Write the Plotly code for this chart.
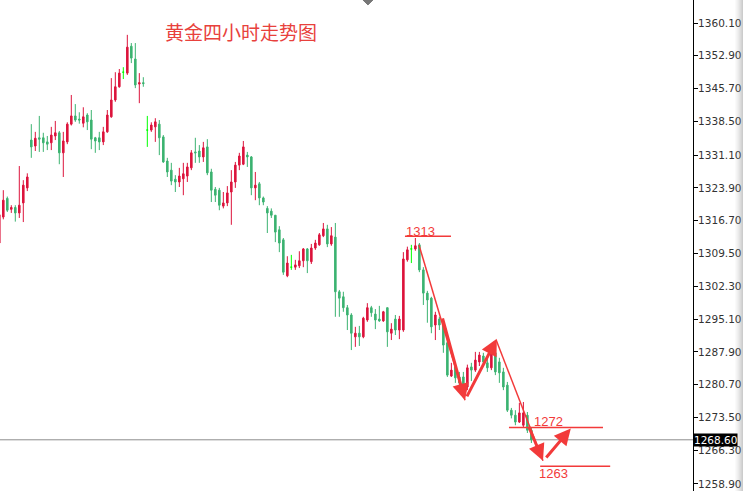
import plotly.graph_objects as go

# ---- data (4-hour gold candles) ----
opens = [1311.8, 1317.5, 1321.6, 1319.2, 1319.6, 1318.4, 1320.6, 1323.9, 1334.4, 1333.1,
         1334.9, 1334.9, 1334.0, 1333.8, 1335.3, 1336.0, 1331.6, 1334.0, 1337.9, 1339.7,
         1339.0, 1338.1, 1339.9, 1338.8, 1334.9, 1334.9, 1334.0, 1336.2, 1339.5, 1343.2,
         1346.1, 1349.3, 1349.1, 1355.0, 1352.2, 1346.7, 1347.0, 1336.6, 1336.6, 1337.3,
         1337.9, 1335.1, 1329.8, 1327.8, 1325.8, 1325.2, 1325.9, 1326.5, 1328.3, 1331.8,
         1332.0, 1330.7, 1332.9, 1327.4, 1323.6, 1323.4, 1319.9, 1320.6, 1323.0, 1325.2,
         1328.9, 1329.1, 1331.1, 1330.7, 1323.9, 1324.8, 1321.7, 1319.4, 1318.8, 1317.9,
         1314.7, 1312.5, 1304.6, 1306.5, 1306.5, 1306.8, 1307.9, 1310.5, 1307.7, 1310.7,
         1311.4, 1313.4, 1314.9, 1311.6, 1313.1, 1301.1, 1300.0, 1297.6, 1296.0, 1291.2,
         1292.0, 1291.2, 1294.9, 1297.6, 1296.2, 1295.1, 1294.7, 1297.6, 1292.0, 1295.1,
         1292.7, 1292.7, 1308.1, 1310.5, 1310.5, 1311.4, 1305.9, 1300.8, 1299.7, 1293.8,
         1295.1, 1293.8, 1289.9, 1282.6, 1284.6, 1282.4, 1282.4, 1280.2, 1284.6, 1283.9,
         1285.7, 1287.0, 1285.5, 1284.4, 1287.7, 1285.7, 1283.5, 1280.6, 1275.1, 1274.0,
         1272.5, 1271.8, 1274.0, 1270.7]
highs = [1318.3, 1323.4, 1322.0, 1320.1, 1320.1, 1328.7, 1325.6, 1327.1, 1337.9, 1336.2,
         1339.7, 1336.0, 1335.3, 1337.3, 1338.6, 1336.4, 1336.2, 1338.3, 1344.3, 1342.3,
         1340.5, 1341.6, 1340.3, 1341.0, 1335.1, 1336.2, 1337.3, 1341.0, 1348.0, 1349.3,
         1350.0, 1350.4, 1357.5, 1355.7, 1355.7, 1349.1, 1348.2, 1339.7, 1338.3, 1339.2,
         1338.8, 1335.5, 1330.5, 1329.4, 1326.7, 1328.3, 1329.4, 1329.4, 1332.2, 1334.9,
         1333.3, 1334.0, 1334.6, 1328.1, 1324.1, 1323.9, 1323.0, 1324.3, 1327.8, 1329.6,
         1331.6, 1334.2, 1331.8, 1330.9, 1327.4, 1325.2, 1322.0, 1319.9, 1319.4, 1317.9,
         1315.5, 1312.9, 1308.9, 1309.2, 1308.1, 1310.0, 1310.7, 1310.7, 1311.6, 1312.5,
         1314.0, 1316.2, 1315.8, 1315.3, 1316.2, 1301.5, 1301.1, 1298.2, 1296.4, 1293.4,
         1293.6, 1295.6, 1298.6, 1298.0, 1297.3, 1298.0, 1296.9, 1297.6, 1294.2, 1296.0,
         1295.8, 1309.8, 1311.0, 1311.4, 1312.9, 1311.8, 1306.5, 1301.3, 1300.0, 1296.7,
         1295.6, 1294.5, 1291.0, 1285.5, 1285.5, 1283.5, 1283.5, 1285.1, 1285.5, 1287.9,
         1287.9, 1287.7, 1286.6, 1288.3, 1288.3, 1286.6, 1284.4, 1281.3, 1275.6, 1275.1,
         1276.7, 1276.9, 1274.7, 1271.2]
lows = [1311.0, 1317.0, 1318.6, 1318.4, 1316.5, 1317.3, 1316.4, 1323.2, 1330.5, 1332.0,
        1331.8, 1331.8, 1332.2, 1332.2, 1334.4, 1329.1, 1326.3, 1333.5, 1337.6, 1338.4,
        1338.0, 1337.2, 1336.6, 1332.4, 1331.6, 1332.2, 1333.3, 1336.0, 1339.3, 1342.8,
        1345.9, 1347.8, 1348.7, 1351.3, 1345.8, 1342.5, 1346.1, 1332.9, 1336.2, 1334.0,
        1331.1, 1329.4, 1326.3, 1324.5, 1323.0, 1324.1, 1322.3, 1325.2, 1327.8, 1329.4,
        1329.4, 1329.6, 1326.7, 1320.8, 1320.8, 1319.0, 1319.4, 1319.9, 1315.8, 1323.9,
        1327.8, 1328.9, 1328.5, 1322.3, 1321.2, 1320.1, 1320.1, 1314.0, 1317.3, 1312.0,
        1309.8, 1304.8, 1304.3, 1305.9, 1305.9, 1306.3, 1306.5, 1305.2, 1307.2, 1310.3,
        1311.2, 1313.1, 1310.9, 1311.2, 1295.6, 1295.6, 1296.7, 1292.7, 1288.3, 1289.0,
        1289.2, 1290.9, 1294.5, 1295.6, 1292.9, 1294.5, 1294.5, 1289.0, 1290.5, 1291.6,
        1290.7, 1292.3, 1307.7, 1307.4, 1310.1, 1305.4, 1298.2, 1294.3, 1292.0, 1290.5,
        1292.7, 1287.7, 1282.4, 1282.4, 1281.1, 1278.9, 1277.8, 1279.5, 1281.5, 1283.5,
        1284.8, 1284.6, 1283.5, 1283.9, 1282.8, 1281.1, 1279.5, 1274.7, 1273.3, 1271.8,
        1272.3, 1271.4, 1270.1, 1267.9]
closes = [1318.0, 1321.2, 1319.0, 1319.6, 1318.4, 1320.1, 1324.5, 1326.3, 1332.9, 1334.8,
          1334.6, 1333.8, 1333.5, 1335.5, 1336.0, 1331.6, 1334.2, 1337.9, 1339.7, 1338.8,
          1338.8, 1339.5, 1338.4, 1334.6, 1334.2, 1334.0, 1336.2, 1339.9, 1343.2, 1346.1,
          1349.1, 1349.3, 1354.8, 1352.4, 1346.5, 1347.0, 1346.8, 1336.6, 1337.7, 1338.4,
          1334.9, 1329.6, 1327.4, 1325.4, 1325.2, 1326.5, 1327.0, 1328.5, 1331.6, 1331.6,
          1330.7, 1332.7, 1327.2, 1323.4, 1322.3, 1320.1, 1320.6, 1322.8, 1325.2, 1328.9,
          1330.9, 1332.9, 1330.7, 1323.9, 1324.5, 1321.7, 1320.8, 1318.4, 1317.9, 1314.2,
          1311.8, 1305.4, 1307.4, 1306.5, 1307.0, 1307.9, 1310.5, 1307.9, 1310.7, 1311.8,
          1313.6, 1314.9, 1311.6, 1313.4, 1301.1, 1299.7, 1297.6, 1296.0, 1292.0, 1292.0,
          1291.2, 1295.3, 1297.6, 1296.5, 1294.9, 1294.7, 1296.7, 1292.3, 1292.9, 1292.7,
          1295.1, 1308.3, 1310.3, 1310.5, 1311.2, 1305.9, 1300.8, 1299.3, 1293.4, 1296.0,
          1293.8, 1289.4, 1282.8, 1283.9, 1282.2, 1281.1, 1278.9, 1284.4, 1283.9, 1286.1,
          1287.2, 1285.7, 1284.4, 1287.7, 1283.5, 1283.3, 1280.2, 1275.1, 1274.0, 1272.5,
          1274.5, 1274.5, 1270.7, 1268.6]

tick_vals = [1360.10, 1352.90, 1345.70, 1338.50, 1331.10, 1323.90, 1316.70, 1309.50,
             1302.30, 1295.10, 1287.90, 1280.70, 1273.50, 1266.30, 1258.90]
tick_text = ["%.2f" % v for v in tick_vals]

title_text = "黄金四小时走势图"
current_price = 1268.60
level_high = 1313.3      # drawn "1313" line
level_mid = 1271.3       # drawn "1272" line
level_low = 1262.8       # drawn "1263" line

RED = "#DC143C"
GREEN = "#3CB371"
LIME = "#00FF00"
ANN = "#F23A3A"

n = len(opens)
xs = list(range(n))
reg = [i for i in xs if opens[i] != closes[i]]
doj = [i for i in xs if opens[i] == closes[i]]

fig = go.Figure()
fig.add_trace(go.Candlestick(
    x=reg, open=[opens[i] for i in reg], high=[highs[i] for i in reg],
    low=[lows[i] for i in reg], close=[closes[i] for i in reg],
    increasing=dict(line=dict(color=RED, width=1), fillcolor=RED),
    decreasing=dict(line=dict(color=GREEN, width=1), fillcolor=GREEN),
    showlegend=False, hoverinfo="skip"))
fig.add_trace(go.Candlestick(
    x=doj, open=[opens[i] for i in doj], high=[highs[i] for i in doj],
    low=[lows[i] for i in doj], close=[closes[i] for i in doj],
    increasing=dict(line=dict(color=LIME, width=1), fillcolor=LIME),
    decreasing=dict(line=dict(color=LIME, width=1), fillcolor=LIME),
    showlegend=False, hoverinfo="skip"))

PW = 693.0  # plot width in px (for paper-coordinate shapes outside the plot)
shapes = []
# current price line
shapes.append(dict(type="line", xref="paper", x0=0, x1=1, yref="y", y0=current_price, y1=current_price,
                   line=dict(color="#8c8c8c", width=1), layer="below"))
# level lines
shapes.append(dict(type="line", xref="x", yref="y", x0=101.4, x1=112.9, y0=level_high, y1=level_high,
                   line=dict(color=ANN, width=1.5)))
shapes.append(dict(type="line", xref="x", yref="y", x0=127.4, x1=150.9, y0=level_mid, y1=level_mid,
                   line=dict(color=ANN, width=1.5)))
shapes.append(dict(type="line", xref="x", yref="y", x0=135.2, x1=152.7, y0=level_low, y1=level_low,
                   line=dict(color=ANN, width=1.5)))
# thin trend lines
shapes.append(dict(type="line", xref="x", yref="y", x0=104.9, y0=1311.4, x1=116.4, y1=1277.3,
                   line=dict(color=ANN, width=1.5)))
shapes.append(dict(type="line", xref="x", yref="y", x0=124.2, y0=1290.5, x1=135.9, y1=1264.0,
                   line=dict(color=ANN, width=1.5)))
# small marker at top
shapes.append(dict(type="path", xref="x", yref="paper",
                   path="M 90.9 1 L 93.4 1 L 92.15 0.99 Z",
                   fillcolor="#777777", line=dict(color="#777777", width=1)))
# gray shading strip at right edge
for k, op in enumerate([0.04, 0.08, 0.12, 0.17, 0.22, 0.28, 0.34, 0.40]):
    x0 = (735 + k) / PW
    shapes.append(dict(type="rect", xref="paper", yref="paper", x0=x0, x1=x0 + 1.0 / PW, y0=0, y1=1,
                       fillcolor="#808080", opacity=op, line=dict(width=0), layer="above"))

annotations = []
annotations.append(dict(text=title_text, xref="paper", yref="paper", x=163/PW, y=1-31/491,
                        xanchor="left", yanchor="middle", showarrow=False,
                        font=dict(family="Noto Sans CJK SC", size=19, color="#E8413C")))
for txt, xx, yy in [("1313", 101.2, 1314.3), ("1272", 133.2, 1272.6), ("1263", 134.5, 1261.2)]:
    annotations.append(dict(text=txt, xref="x", yref="y", x=xx, y=yy, xanchor="left", yanchor="middle",
                            showarrow=False, font=dict(family="Liberation Sans", size=13, color=ANN)))

def arrow(x0, y0, x1, y1, w=3):
    return dict(x=x1, y=y1, ax=x0, ay=y0, xref="x", yref="y", axref="x", ayref="y",
                showarrow=True, arrowhead=2, arrowsize=1.1, arrowwidth=w, arrowcolor=ANN, text="")

annotations.append(arrow(110.7, 1295.6, 116.4, 1277.3))
annotations.append(arrow(116.7, 1277.8, 124.35, 1290.8))
annotations.append(arrow(132.2, 1271.8, 135.9, 1264.0))
annotations.append(arrow(136.4, 1264.4, 142.85, 1271.1))

# current price tag on axis
annotations.append(dict(text="1268.60", xref="paper", yref="y", x=1.0, y=current_price, xanchor="left",
                        yanchor="middle", showarrow=False, bgcolor="#000000", borderpad=0,
                        font=dict(family="DejaVu Sans", size=10.5, color="#ffffff")))

fig.update_layout(
    width=743, height=491,
    margin=dict(l=0, r=50, t=0, b=0, autoexpand=False),
    paper_bgcolor="white", plot_bgcolor="white",
    boxgap=0.45,
    shapes=shapes, annotations=annotations,
    xaxis=dict(range=[0.175, 173.4], visible=False, rangeslider=dict(visible=False), fixedrange=True,
               automargin=False),
    yaxis=dict(range=[1257.36, 1365.15], side="right", showgrid=False, zeroline=False,
               showline=True, linecolor="#000000", linewidth=1, mirror=False, automargin=False,
               ticks="outside", ticklen=4, tickcolor="#000000", fixedrange=True,
               ticklabelstandoff=-2,
               tickvals=tick_vals, ticktext=tick_text,
               tickfont=dict(family="DejaVu Sans", size=10.5, color="#333333")),
    showlegend=False,
)

fig.write_html("out.html", config={"displayModeBar": False, "staticPlot": True},
               post_script="document.body.style.margin='0';document.body.style.overflow='hidden';")
